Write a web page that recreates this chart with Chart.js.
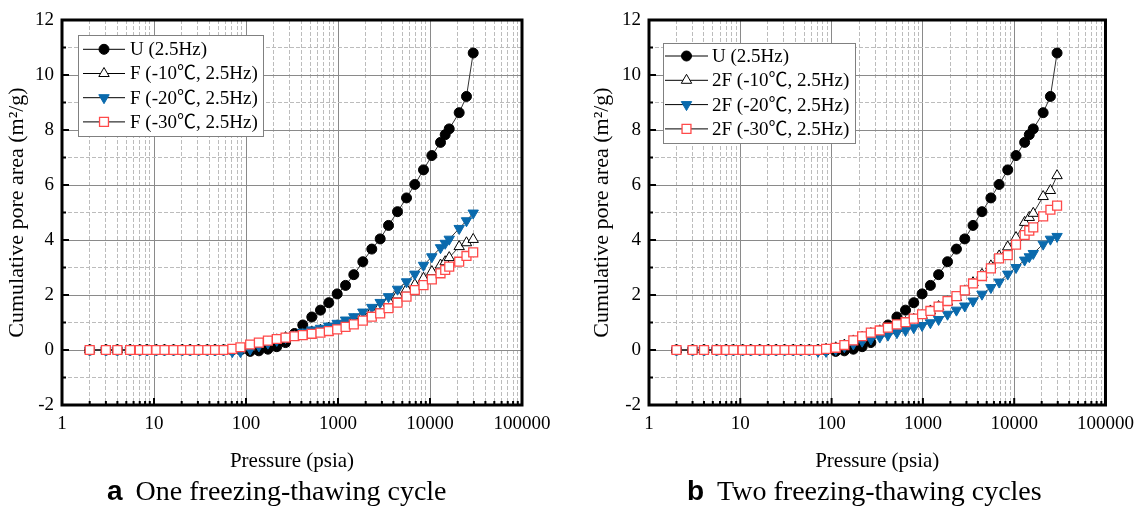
<!DOCTYPE html>
<html><head><meta charset="utf-8">
<script src="https://cdn.jsdelivr.net/npm/chart.js@4.4.0/dist/chart.umd.min.js"></script>
<style>
html,body{margin:0;padding:0;background:#fff;}
#wrap{position:relative;width:1142px;height:509px;overflow:hidden;background:#fff;}
.cv{position:absolute;top:0;width:571px;height:509px;}
.cap{position:absolute;top:477px;font-family:"Liberation Serif",serif;font-size:28px;line-height:28px;white-space:nowrap;color:#000;}
.cap b{font-family:"Liberation Sans",sans-serif;font-weight:bold;margin-right:13px;}
</style></head>
<body><div id="wrap">
<div class="cv" style="left:0"><canvas id="c1" width="571" height="509"></canvas></div>
<div class="cv" style="left:571px"><canvas id="c2" width="571" height="509"></canvas></div>
<div class="cap" style="left:107px"><b>a</b>One freezing-thawing cycle</div>
<div class="cap" style="left:687px"><b>b</b>Two freezing-thawing cycles</div>
</div>
<script>
// ---------------- data ----------------
const pressure = [2, 3, 4, 5.5, 7, 8.4, 10.6, 13, 16.3, 20.3, 24.7, 30.5, 38, 46, 57, 71, 87,
  111, 138, 173, 216, 269, 337, 414, 519, 645, 794, 980, 1208, 1485, 1861, 2330, 2875, 3540,
  4436, 5557, 6838, 8497, 10470, 13010, 14630, 16180, 20760, 24920, 29480];

const xTickLabels = [1, 10, 100, 1000, 10000, 100000];
const yTickLabels = [-2, 0, 2, 4, 6, 8, 10, 12];
const yMinorTicks = [-1, 1, 3, 5, 7, 9, 11];

const labelsOne = ['U (2.5Hz)', 'F (-10℃, 2.5Hz)', 'F (-20℃, 2.5Hz)', 'F (-30℃, 2.5Hz)'];
const labelsTwo = ['U (2.5Hz)', '2F (-10℃, 2.5Hz)', '2F (-20℃, 2.5Hz)', '2F (-30℃, 2.5Hz)'];

const uArea = [0,0,0,0,0,0,0,0,0,0,0,0,0,0,0,0,0,
  -0.05,-0.03,0.03,0.12,0.27,0.6,0.91,1.2,1.45,1.72,2.04,2.35,2.74,3.21,3.67,4.04,4.53,
  5.03,5.53,6.02,6.55,7.07,7.55,7.83,8.04,8.63,9.22,10.8];

const f10Area = [0,0,0,0,0,0,0,0,0,0,0,0,0,0,0,0,0,
  0.08,0.18,0.28,0.37,0.45,0.52,0.6,0.66,0.72,0.8,0.88,0.98,1.1,1.25,1.42,1.6,1.8,
  2.0,2.21,2.38,2.61,2.85,3.09,3.21,3.36,3.76,3.9,4.02];
const f20Area = [0,0,0,0,0,0,0,0,0,0,0,0,0,0,0,-0.06,-0.06,
  0.03,0.15,0.25,0.35,0.45,0.55,0.65,0.73,0.79,0.87,0.97,1.09,1.21,1.38,1.55,1.73,1.94,
  2.21,2.48,2.76,3.08,3.39,3.72,3.88,4.03,4.42,4.7,4.98];
const f30Area = [0,0,0,0,0,0,0,0,0,0,0,0,0,0,0,0.04,0.1,
  0.2,0.27,0.34,0.4,0.45,0.5,0.54,0.59,0.63,0.69,0.75,0.84,0.93,1.07,1.21,1.33,1.52,
  1.72,1.94,2.18,2.36,2.57,2.79,2.91,3.03,3.21,3.42,3.55];

const f2_10Area = [0,0,0,0,0,0,0,0,0,0,0,0,0,0,0,0,0.03,
  0.08,0.18,0.33,0.47,0.6,0.7,0.8,0.9,1.0,1.12,1.26,1.42,1.58,1.75,1.91,2.15,2.45,
  2.75,3.06,3.42,3.75,4.09,4.64,4.82,4.97,5.58,5.8,6.34];
const f2_20Area = [0,0,0,0,0,0,0,0,0,0,0,0,0,0,0,-0.05,-0.05,
  0.02,0.12,0.22,0.32,0.4,0.47,0.54,0.63,0.71,0.81,0.89,0.99,1.11,1.3,1.45,1.6,1.78,
  2.03,2.27,2.47,2.76,3.0,3.27,3.39,3.51,3.85,4.03,4.13];
const f2_30Area = [0,0,0,0,0,0,0,0,0,0,0,0,0,0,0,0,0.04,
  0.08,0.18,0.35,0.5,0.63,0.71,0.81,0.93,1.01,1.14,1.3,1.42,1.58,1.78,1.96,2.17,2.42,
  2.69,2.97,3.33,3.45,3.83,4.18,4.34,4.46,4.86,5.1,5.25];

// ---------------- styles ----------------
const SERIF = '"Liberation Serif", "Noto Sans CJK SC", serif';
const markerStyles = [
  {pointStyle:'circle',   rotation:0,   radius:5,   fill:'#000000', stroke:'#000000', bw:1},
  {pointStyle:'triangle', rotation:0,   radius:6,   fill:'#ffffff', stroke:'#000000', bw:1},
  {pointStyle:'triangle', rotation:180, radius:6,   fill:'#0a6aad', stroke:'#0a6aad', bw:1},
  {pointStyle:'rect',     rotation:0,   radius:6.3, fill:'#ffffff', stroke:'#ff4a4a', bw:1.3}
];

const xMinorTicks = [];
for (let d = 1; d < 100000; d *= 10) for (let k = 2; k <= 9; k++) xMinorTicks.push(d * k);

function drawMarker(ctx, st, x, y) {
  ctx.save();
  ctx.fillStyle = st.fill; ctx.strokeStyle = st.stroke; ctx.lineWidth = st.bw;
  ctx.beginPath();
  const r = st.radius;
  if (st.pointStyle === 'circle') {
    ctx.arc(x, y, r, 0, Math.PI * 2);
  } else if (st.pointStyle === 'triangle') {
    let rad = st.rotation * Math.PI / 180;
    for (let i = 0; i < 3; i++) {
      const px = x + Math.sin(rad) * r, py = y - Math.cos(rad) * r;
      if (i === 0) ctx.moveTo(px, py); else ctx.lineTo(px, py);
      rad += 2 * Math.PI / 3;
    }
    ctx.closePath();
  } else {
    const s = Math.SQRT1_2 * r;
    ctx.rect(x - s, y - s, 2 * s, 2 * s);
  }
  ctx.fill(); ctx.stroke();
  ctx.restore();
}

const framePlugin = {
  id: 'frame',
  afterDatasetsDraw(chart, args, opts) {
    const {ctx, chartArea: a, scales} = chart;
    ctx.save();
    ctx.strokeStyle = '#000';
    ctx.lineWidth = 2;
    ctx.beginPath();
    scales.x.ticks.forEach(t => { const p = scales.x.getPixelForValue(t.value); ctx.moveTo(p, a.bottom); ctx.lineTo(p, a.bottom - 7); });
    scales.x2.ticks.forEach(t => { const p = scales.x2.getPixelForValue(t.value); ctx.moveTo(p, a.bottom); ctx.lineTo(p, a.bottom - 4); });
    scales.y.ticks.forEach(t => { const p = scales.y.getPixelForValue(t.value); ctx.moveTo(a.left, p); ctx.lineTo(a.left + 7, p); });
    scales.y2.ticks.forEach(t => { const p = scales.y2.getPixelForValue(t.value); ctx.moveTo(a.left, p); ctx.lineTo(a.left + 4, p); });
    ctx.stroke();
    ctx.lineWidth = 3;
    ctx.strokeRect(a.left, a.top, a.right - a.left, a.bottom - a.top);
    // legend
    const L = opts;
    ctx.fillStyle = '#fff';
    ctx.fillRect(L.x, L.y, L.w, L.h);
    ctx.lineWidth = 1;
    ctx.strokeStyle = '#808080';
    ctx.strokeRect(L.x + 0.5, L.y + 0.5, L.w, L.h);
    ctx.font = '19px ' + SERIF;
    ctx.textBaseline = 'middle';
    ctx.textAlign = 'left';
    chart.data.datasets.forEach((ds, i) => {
      const yy = L.row0 + i * L.step;
      ctx.strokeStyle = '#000'; ctx.lineWidth = 1;
      ctx.beginPath(); ctx.moveTo(L.lx1, yy); ctx.lineTo(L.lx2, yy); ctx.stroke();
      drawMarker(ctx, markerStyles[i], (L.lx1 + L.lx2) / 2, yy);
      ctx.fillStyle = '#000';
      ctx.fillText(ds.label, L.tx, yy + 1);
    });
    ctx.restore();
  }
};

function makeChart(id, labels, series, legendOpts, pad, yWidth) {
  const datasets = series.map((vals, i) => ({
    label: labels[i],
    data: pressure.map((p, j) => ({x: p, y: vals[j]})),
    showLine: true,
    borderColor: '#333',
    borderWidth: 1,
    pointStyle: markerStyles[i].pointStyle,
    pointRotation: markerStyles[i].rotation,
    pointRadius: markerStyles[i].radius,
    pointBackgroundColor: markerStyles[i].fill,
    pointBorderColor: markerStyles[i].stroke,
    pointBorderWidth: markerStyles[i].bw,
    order: 4 - i,
    xAxisID: 'x', yAxisID: 'y'
  }));
  const tickFont = {family: SERIF, size: 19};
  return new Chart(document.getElementById(id), {
    type: 'scatter',
    data: {datasets},
    options: {
      responsive: false, animation: false, devicePixelRatio: 1,
      layout: {padding: pad},
      plugins: {legend: {display: false}, tooltip: {enabled: false}, frame: legendOpts},
      scales: {
        x: {
          type: 'logarithmic', position: 'bottom', min: 1, max: 100000,
          afterBuildTicks: s => { s.ticks = xTickLabels.map(v => ({value: v})); },
          afterFit: s => { s.height = 70; },
          ticks: {autoSkip: false, maxRotation: 0, padding: 8, color: '#000', font: tickFont, callback: v => String(v)},
          grid: {color: '#8a8a8a', lineWidth: 1, drawTicks: false},
          border: {display: false},
          title: {display: true, text: 'Pressure (psia)', color: '#000', font: {family: SERIF, size: 21}, padding: {top: 0, bottom: 1}}
        },
        x2: {
          type: 'logarithmic', position: 'bottom', min: 1, max: 100000,
          afterBuildTicks: s => { s.ticks = xMinorTicks.map(v => ({value: v})); },
          afterFit: s => { s.height = 0; },
          ticks: {display: false},
          grid: {color: '#bcbcbc', lineWidth: 1, drawTicks: false},
          border: {display: false, dash: [4, 2]}
        },
        y: {
          type: 'linear', position: 'left', min: -2, max: 12,
          afterBuildTicks: s => { s.ticks = yTickLabels.map(v => ({value: v})); },
          afterFit: s => { s.width = yWidth; },
          ticks: {padding: 8, color: '#000', font: tickFont, callback: v => String(v)},
          grid: {color: '#8a8a8a', lineWidth: 1, drawTicks: false},
          border: {display: false},
          title: {display: true, text: 'Cumulative pore area (m²/g)', color: '#000', font: {family: SERIF, size: 22}, padding: {top: 4.4, bottom: 0}}
        },
        y2: {
          type: 'linear', position: 'left', min: -2, max: 12,
          afterBuildTicks: s => { s.ticks = yMinorTicks.map(v => ({value: v})); },
          afterFit: s => { s.width = 0; },
          ticks: {display: false},
          grid: {color: '#bcbcbc', lineWidth: 1, drawTicks: false},
          border: {display: false, dash: [4, 2]}
        }
      }
    },
    plugins: [framePlugin]
  });
}

makeChart('c1', labelsOne, [uArea, f10Area, f20Area, f30Area],
  {x: 78, y: 35, w: 185, h: 101, row0: 49.3, step: 24.2, lx1: 83, lx2: 125, tx: 130},
  {left: 0, top: 20, right: 49, bottom: 34}, 62);
makeChart('c2', labelsTwo, [uArea, f2_10Area, f2_20Area, f2_30Area],
  {x: 92, y: 43, w: 192, h: 100, row0: 56, step: 24.3, lx1: 94, lx2: 137, tx: 141},
  {left: 14, top: 20, right: 31, bottom: 34}, 64);
</script>
</body></html>
